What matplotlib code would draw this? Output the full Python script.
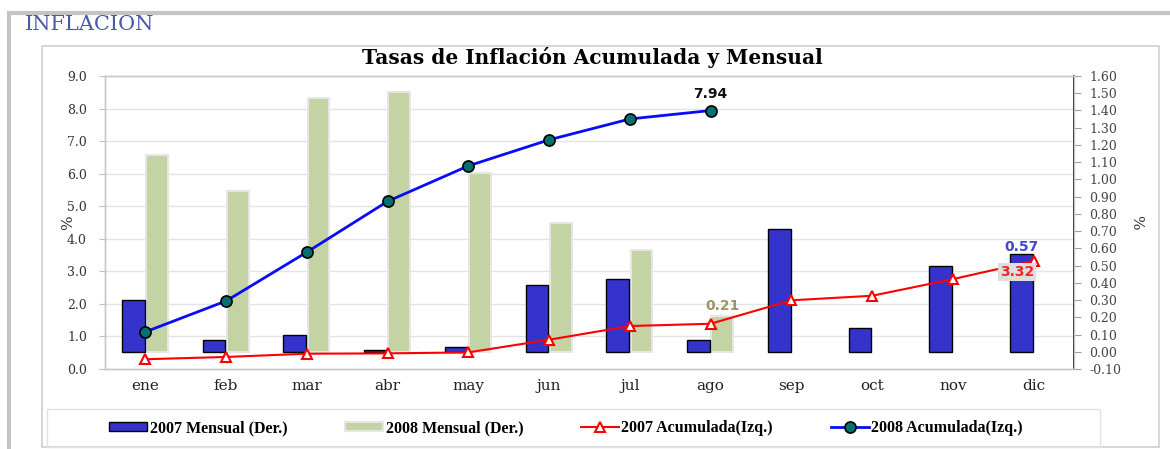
import matplotlib
matplotlib.use("Agg")
import matplotlib.pyplot as plt
import numpy as np
from matplotlib.patches import Rectangle

# Data
meses = ['ene', 'feb', 'mar', 'abr', 'may', 'jun', 'jul', 'ago', 'sep', 'oct', 'nov', 'dic']
mensual_2007 = [0.30, 0.07, 0.10, 0.01, 0.03, 0.39, 0.42, 0.07, 0.71, 0.14, 0.50, 0.57]
mensual_2008 = [1.14, 0.93, 1.47, 1.51, 1.04, 0.75, 0.59, 0.21]
acum_2007 = [0.30, 0.37, 0.47, 0.48, 0.51, 0.90, 1.32, 1.39, 2.11, 2.25, 2.76, 3.32]
acum_2008 = [1.14, 2.09, 3.59, 5.15, 6.24, 7.04, 7.68, 7.94]

W, H = 1170, 449
fig = plt.figure(figsize=(W / 100, H / 100), dpi=100)
fig.patch.set_facecolor('white')


def fx(x):
    return x / W


def fy(y):
    return 1 - y / H


# frames
fig.add_artist(Rectangle((fx(9), fy(452)), fx(1175) - fx(9), fy(13) - fy(452),
                         transform=fig.transFigure, fill=False, ec='#C4C4C4', lw=3))
fig.add_artist(Rectangle((fx(42), fy(447)), fx(1159) - fx(42), fy(46) - fy(447),
                         transform=fig.transFigure, fill=False, ec='#D0D0D0', lw=1.2))
fig.add_artist(Rectangle((fx(47), fy(447)), fx(1100) - fx(47), fy(409) - fy(447),
                         transform=fig.transFigure, fill=False, ec='#E2E2E2', lw=1.0))

fig.text(fx(25), fy(25), 'INFLACION', family='DejaVu Serif', fontsize=15,
         color='#4A5AAA', va='center', ha='left')
fig.text(fx(592), fy(58), 'Tasas de Inflación Acumulada y Mensual', family='DejaVu Serif',
         fontsize=14.5, fontweight='bold', color='black', ha='center', va='center')

ax = fig.add_axes([fx(105), fy(369), fx(1074) - fx(105), fy(76) - fy(369)])
ax2 = ax.twinx()
ax.set_zorder(ax2.get_zorder() + 1)
ax.patch.set_visible(False)

x = np.arange(len(meses))
x8 = np.arange(len(mensual_2008))

# bars on right axis
b7 = ax2.bar(x - 0.15, mensual_2007, width=0.28, color='#3434CC', edgecolor='black', lw=1, zorder=3)
b8 = ax2.bar(x8 + 0.145, mensual_2008, width=0.27, color='#C3D3A4', edgecolor='#E6E6E6', lw=1.5, zorder=2)
ax2.set_ylim(-0.1, 1.6)
ax2.set_yticks(np.arange(-0.1, 1.61, 0.1))
ax2.set_yticklabels(['%.2f' % v for v in np.arange(-0.1, 1.61, 0.1)])

# grid in left-axis units, drawn behind the bars
for v in range(1, 9):
    ax2.plot([0, 1], [v, v], transform=ax.get_yaxis_transform(), color='#E4E4E4', lw=1,
             zorder=0, scalex=False, scaley=False)

# lines on left axis
l7, = ax.plot(x, acum_2007, color='#FF0000', lw=1.5, marker='^', ms=7, mfc='white',
              mec='#FF0000', mew=1.5, zorder=4)
l8, = ax.plot(x8, acum_2008, color='#0A0AFF', lw=2, marker='o', ms=8, mfc='#007070',
              mec='black', mew=1.2, zorder=5)

ax.set_ylim(0, 9)
ax.set_yticks(np.arange(0, 9.1, 1))
ax.set_yticklabels(['%.1f' % v for v in np.arange(0, 9.1, 1)])
ax.set_xlim(-0.5, len(meses) - 0.5)
ax.set_xticks(x)
ax.set_xticklabels(meses)

for a in (ax, ax2):
    for s in a.spines.values():
        s.set_color('#C8C8C8')
        s.set_linewidth(1)
ax2.spines['right'].set_color('black')
ax2.spines['right'].set_linewidth(1.2)

ax.tick_params(axis='y', length=4, color='#C0C0C0', labelsize=9, labelcolor='#333333', pad=9)
ax.tick_params(axis='x', length=0, labelsize=11, labelcolor='#222222', pad=7)
ax2.tick_params(axis='y', length=5, color='#A0A0A0', labelsize=9, labelcolor='#444444', pad=6)
for lab in ax.get_yticklabels() + ax.get_xticklabels() + ax2.get_yticklabels():
    lab.set_family('DejaVu Serif')

ax.set_ylabel('%', family='DejaVu Serif', fontsize=11, color='#333333', labelpad=-6)
ax2.set_ylabel('%', family='DejaVu Serif', fontsize=11, color='#333333', rotation=-90,
               labelpad=16)

# value labels
ax.annotate('7.94', (x8[-1], acum_2008[-1]), xytext=(0, 7), textcoords='offset points',
            ha='center', va='bottom', fontsize=10, fontweight='bold', family='DejaVu Sans',
            color='#111111')
ax2.annotate('0.21', (x8[-1] + 0.145, mensual_2008[-1]), xytext=(0, 2), textcoords='offset points',
             ha='center', va='bottom', fontsize=10, fontweight='bold', family='DejaVu Sans',
             color='#9C9464')
ax2.annotate('0.57', (x[-1] - 0.15, mensual_2007[-1]), xytext=(0, 0), textcoords='offset points',
             ha='center', va='bottom', fontsize=10, fontweight='bold', family='DejaVu Sans',
             color='#4646D0')
ax.annotate('3.32', (x[-1], acum_2007[-1]), xytext=(-12, -8), textcoords='offset points',
            ha='center', va='center', fontsize=10, fontweight='bold', family='DejaVu Sans',
            color='#FF2020', zorder=6,
            bbox=dict(boxstyle='square,pad=0.15', fc='#DEDEDE', ec='none'))

fig.legend([b7, b8, l7, l8],
           ['2007 Mensual (Der.)', '2008 Mensual (Der.)', '2007 Acumulada(Izq.)', '2008 Acumulada(Izq.)'],
           loc='center', bbox_to_anchor=(fx(566), fy(428)), ncol=4, frameon=False,
           prop={'family': 'Liberation Serif', 'weight': 'bold', 'size': 11.5},
           handlelength=2.4, handleheight=0.45, handletextpad=0.15, columnspacing=3.6)

fig.savefig('out.png', dpi=100)
